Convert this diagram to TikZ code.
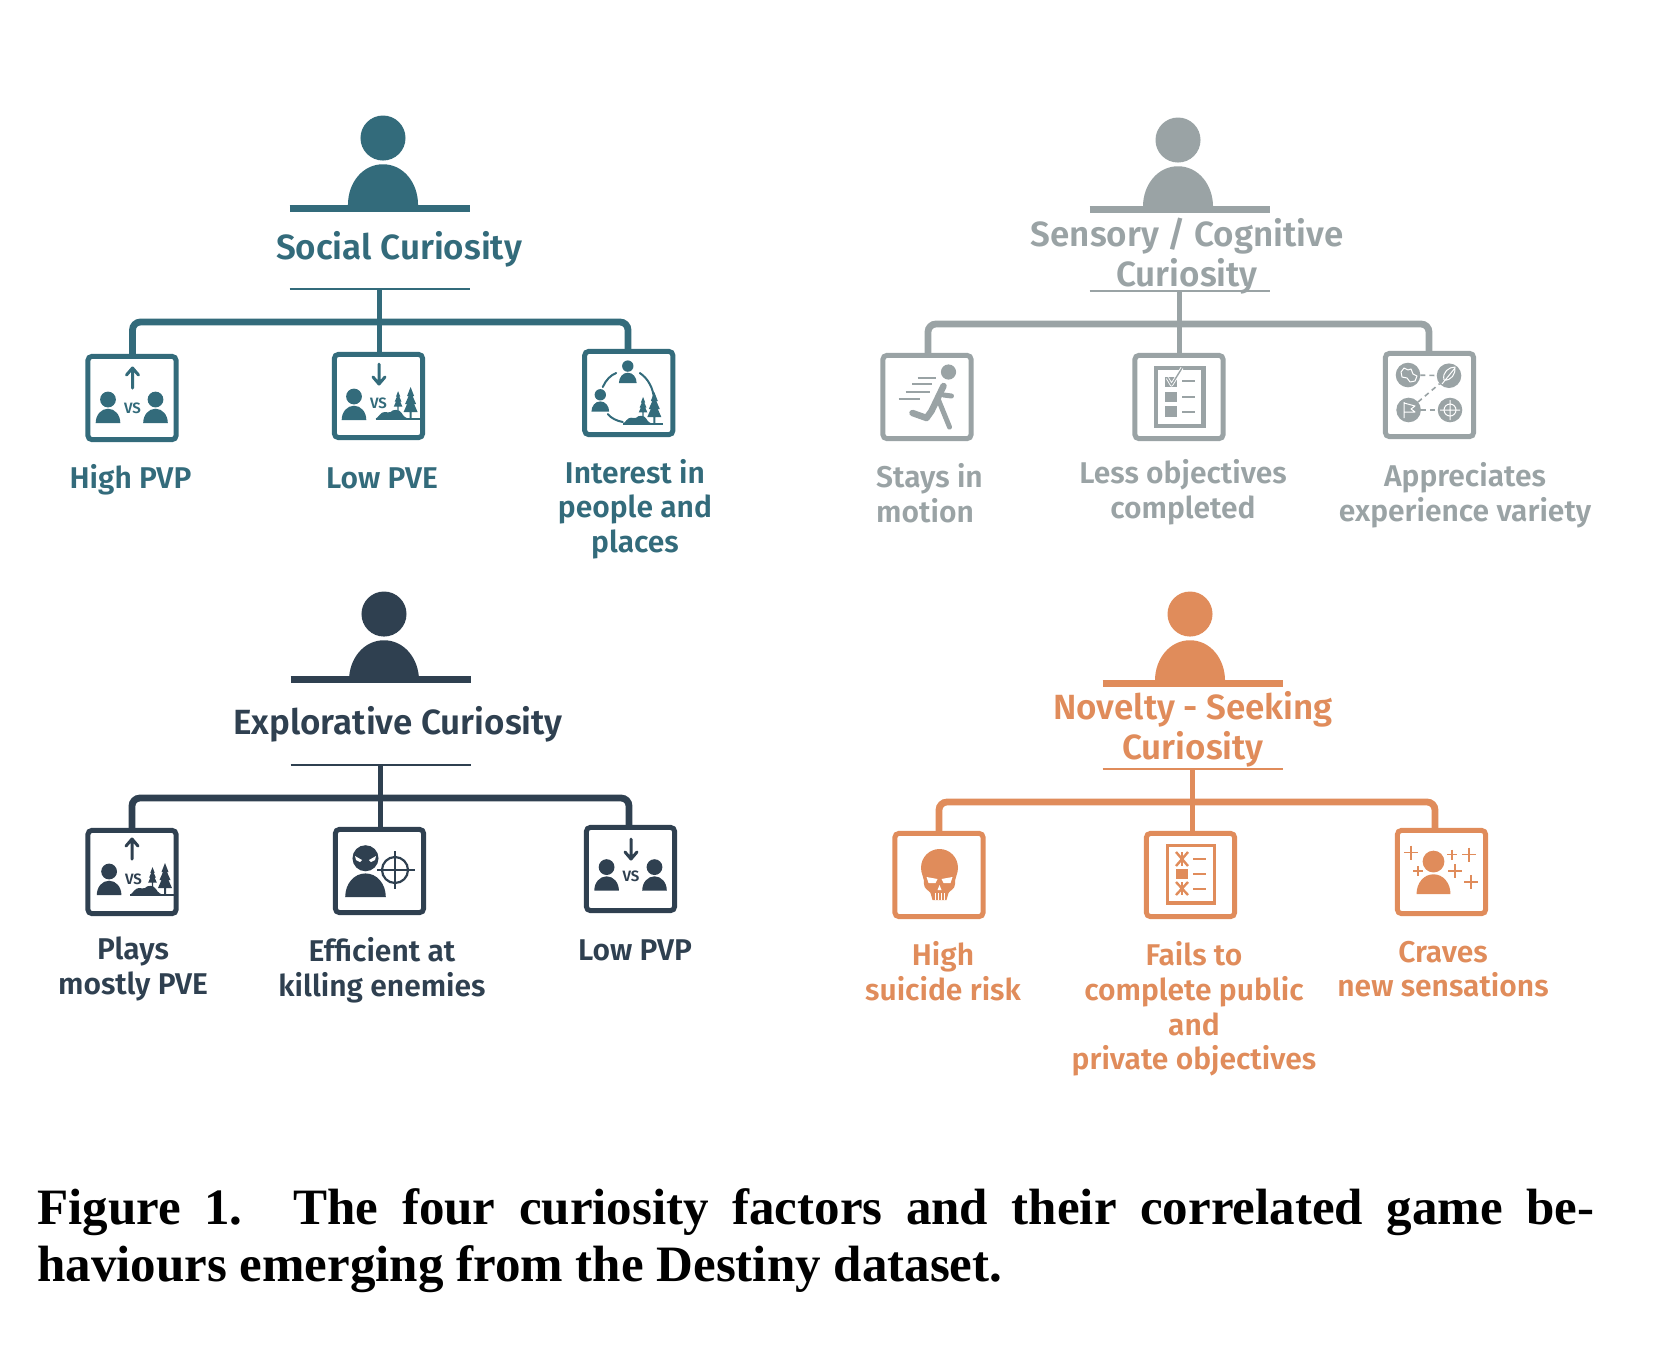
\documentclass[tikz,border=0pt]{standalone}
\usepackage{fontspec}
\setmainfont{Fira Sans}[BoldFont={Fira Sans SemiBold}]
\newfontfamily\capfont{Liberation Serif}
\usetikzlibrary{calc,positioning}

\definecolor{socialcol}{HTML}{336B7B}
\definecolor{sensorycol}{HTML}{9AA3A5}
\definecolor{explorecol}{HTML}{2F4050}
\definecolor{noveltycol}{HTML}{E08C5B}

\tikzset{
person/.pic={
  \fill (0,-23.5) circle (7.9);
  \fill (-12.3,0) .. controls (-12.3,-8) and (-7,-14.3) .. (0,-14.3) .. controls (7,-14.3) and (12.3,-8) .. (12.3,0) -- cycle;
},
fir/.pic={
  \fill (0,-32) -- (3.5,-23) -- (2,-23) -- (5.5,-15) -- (3.5,-15) -- (7,-7) -- (1,-7) -- (1,0) -- (-1,0) -- (-1,-7) -- (-7,-7) -- (-3.5,-15) -- (-5.5,-15) -- (-2,-23) -- (-3.5,-23) -- cycle;
},
scenery/.pic={
  \fill (0,-1) rectangle (45,1);
  \fill (0,0) .. controls (3,-2) and (5,-7) .. (9,-7) .. controls (12,-7) and (13,-6) .. (15,-7) .. controls (17,-10) and (24,-10) .. (26,-6) .. controls (28,-2) and (31,-1) .. (33,0) -- cycle;
  \pic[scale=.62] at (22.5,-8) {fir};
  \pic at (35,0) {fir};
},
pointer/.pic={
  \draw[line width=3pt,line cap=round,line join=round] (0,20) -- (0,0) (-6,7) -- (0,0) -- (6,7);
},
sparkle/.pic={
  \draw[line width=1.4pt] (-1,0) -- (1,0) (0,-1) -- (0,1);
},
factorname/.style={font=\fontsize{35}{40}\selectfont\bfseries,align=center,inner sep=0pt},
lab/.style={font=\fontsize{30}{34.7}\selectfont\bfseries,align=center,inner sep=0pt},
vslab/.style={font=\fontsize{15}{15}\selectfont\bfseries,inner sep=0pt},
iconbox/.style={draw,line width=5pt,rounded corners=4pt,minimum width=88.2pt,minimum height=83.2pt,inner sep=0pt,outer sep=0pt},
shelf/.style={line width=7pt},
rule/.style={line width=1.6pt},
trunk/.style={line width=6.8pt,rounded corners=8pt},
stem/.style={line width=5pt},
tickline/.style={line width=2.4pt},
doc/.style={line width=4.2pt},
badge/.style={circle,fill,minimum size=24.6pt,inner sep=0pt,outer sep=0pt},
inlay/.style={white,line width=1pt,line join=round},
link/.style={line width=1.6pt,dash pattern=on 5pt off 4pt}
}

\begin{document}
\begin{tikzpicture}[x=1pt,y=-1pt]
\useasboundingbox (0,0) rectangle (1662,1350);

%%%%%%%%%%%%%%%%%%%%%
% Social curiosity
\begin{scope}[color=socialcol]
% Nodes
\coordinate (shelfAl) at (289.5,208);
\coordinate (shelfAr) at (469.5,208);
\coordinate (ruleAl) at (289.5,289);
\coordinate (ruleAr) at (469.5,289);
\coordinate (ruleA) at (379,289);
\coordinate (hubAl) at (132.5,322);
\coordinate (hubAr) at (628,322);
\node[iconbox] (boxAa) at (132,398) {};
\node[iconbox] (boxAb) at (378.5,396) {};
\node[iconbox] (boxAc) at (628.8,393) {};

% Arrows
\draw[shelf] (shelfAl) -- (shelfAr);
\draw[rule] (ruleAl) -- (ruleAr);
\draw[stem] (ruleA) -- (ruleA |- boxAb.north);
\draw[trunk] (boxAa.north -| hubAl) -- (hubAl) -- (hubAr) -- (boxAc.north -| hubAr);

% Icons
\pic[scale=2.85] at (383,205) {person};
\begin{scope}[xshift=-0.5pt]
\pic at (133,368) {pointer};
\pic at (108.5,423) {person};
\pic at (156,423) {person};
\node[vslab] (vsAa) at (133,408) {VS};
\end{scope}
\begin{scope}[xshift=-2pt]
\pic[rotate=180] at (381,384) {pointer};
\pic at (356,420) {person};
\node[vslab] (vsAb) at (380.5,403) {VS};
\pic at (377.6,419) {scenery};
\end{scope}
\begin{scope}[xshift=-3.2pt]
\pic[scale=.72] at (631,383) {person};
\pic[scale=.72] at (603.5,411.7) {person};
\pic[scale=.9] at (626,424) {scenery};
\draw[line width=2pt,line cap=round] (606,387) .. controls (609,380) and (614,375) .. (619.4,373);
\draw[line width=2pt,line cap=round] (643,373) .. controls (651,378) and (657,389) .. (657,399);
\draw[line width=2pt,line cap=round] (611,414) .. controls (614,418) and (620,421) .. (626,422);
\end{scope}

% Labels
\node[factorname] (nameA) at (399,249) {Social Curiosity};
\node[lab] (labAa) at (130.5,480) {High PVP};
\node[lab] (labAb) at (382,478.5) {Low PVE};
\node[lab] (labAc) at (635,509) {Interest in\\people and\\places};
\end{scope}

%%%%%%%%%%%%%%%%%%%%%
% Sensory curiosity
\begin{scope}[color=sensorycol]
% Nodes
\coordinate (shelfBl) at (1089.5,209.5);
\coordinate (shelfBr) at (1269.5,209.5);
\coordinate (ruleBl) at (1089.5,291);
\coordinate (ruleBr) at (1269.5,291);
\coordinate (ruleB) at (1179.5,291);
\coordinate (hubBl) at (928,324);
\coordinate (hubBr) at (1429,324);
\node[iconbox] (boxBa) at (927,397) {};
\node[iconbox] (boxBb) at (1179,397) {};
\node[iconbox] (boxBc) at (1429.5,395) {};

% Arrows
\draw[shelf] (shelfBl) -- (shelfBr);
\draw[rule] (ruleBl) -- (ruleBr);
\draw[stem] (ruleB) -- (ruleB |- boxBb.north);
\draw[trunk] (boxBa.north -| hubBl) -- (hubBl) -- (hubBr) -- (boxBc.north -| hubBr);

% Icons
\pic[scale=2.85] at (1178,207) {person};
\begin{scope}[xshift=-0.5pt]
\fill (949,372) circle (7.6);
\draw[line width=2pt] (918,377.7) -- (936,377.7) (912.5,384) -- (932,384) (906,391.7) -- (930.5,391.7) (899,399) -- (920.6,399);
\draw[line width=6.5pt,line cap=round,line join=round] (944,386) -- (932,411) -- (927,418) -- (913,413);
\draw[line width=5pt,line cap=round] (939,400) -- (950,427);
\draw[line width=5pt,line cap=round] (944,395) -- (952,396);
\end{scope}
\begin{scope}[xshift=-2pt]
\draw[doc] (1158,368) rectangle (1205.5,425.7);
\fill (1167,377) rectangle (1178.5,387);
\fill (1167,392) rectangle (1178.5,402);
\fill (1167,406) rectangle (1178.5,417);
\draw[tickline] (1184,381) -- (1197,381) (1184,397) -- (1197,397) (1184,412) -- (1197,412);
\draw[white,line width=3.2pt,line join=round] (1169.4,378) -- (1173.5,385) -- (1184,368);
\draw[line width=1.4pt,line join=round] (1169.4,378) -- (1173.5,385) -- (1184,368);
\end{scope}
\begin{scope}[xshift=-3pt]
\node[badge] (badgeBa) at (1411,375) {};
\node[badge] (badgeBb) at (1452,375.7) {};
\node[badge] (badgeBc) at (1411.6,410) {};
\node[badge] (badgeBd) at (1453,410) {};
\draw[link] (badgeBa) -- (badgeBb);
\draw[link] (badgeBc) -- (badgeBd);
\draw[link] (badgeBc) -- (badgeBb);
\draw[inlay] (1404,372) -- (1407,368) -- (1411,370) -- (1414,369) -- (1416,374) -- (1420,376) -- (1418,381) -- (1413,382) -- (1410,378) -- (1405,377) -- cycle;
\draw[inlay] (1445,384) -- (1458,368) (1447,380) .. controls (1445,372) and (1452,367) .. (1458,367) .. controls (1459,374) and (1454,381) .. (1447,380);
\draw[inlay] (1407,402) -- (1407,418) (1407,403) -- (1418,406) -- (1414,409) -- (1418,412) -- (1407,412);
\draw[inlay] (1453,410) circle (6) (1443,410) -- (1463,410) (1453,400) -- (1453,420);
\end{scope}

% Labels
\node[factorname] (nameB) at (1187,256.5) {Sensory / Cognitive\\Curiosity};
\node[lab,align=left,anchor=west] (labBa) at (876,493) {Stays in\\motion};
\node[lab] (labBb) at (1183,492.5) {Less objectives\\completed};
\node[lab] (labBc) at (1465,495) {Appreciates\\experience variety};
\end{scope}

%%%%%%%%%%%%%%%%%%%%%
% Explorative curiosity
\begin{scope}[color=explorecol]
% Nodes
\coordinate (shelfCl) at (290.5,679);
\coordinate (shelfCr) at (470.5,679);
\coordinate (ruleCl) at (290.5,765);
\coordinate (ruleCr) at (470.5,765);
\coordinate (ruleC) at (380,765);
\coordinate (hubCl) at (132,798);
\coordinate (hubCr) at (629,798);
\node[iconbox] (boxCa) at (132,872) {};
\node[iconbox] (boxCb) at (379.5,871) {};
\node[iconbox] (boxCc) at (630.5,869) {};

% Arrows
\draw[shelf] (shelfCl) -- (shelfCr);
\draw[rule] (ruleCl) -- (ruleCr);
\draw[stem] (ruleC) -- (ruleC |- boxCb.north);
\draw[trunk] (boxCa.north -| hubCl) -- (hubCl) -- (hubCr) -- (boxCc.north -| hubCr);

% Icons
\pic[scale=2.85] at (384,681) {person};
\begin{scope}[xshift=-0.5pt]
\pic at (132.5,839) {pointer};
\pic at (109.6,895) {person};
\node[vslab] (vsCa) at (134,879) {VS};
\pic at (130.5,895) {scenery};
\end{scope}
\begin{scope}[xshift=-2pt]
\pic[scale=1.65] at (367.5,897) {person};
\fill[white] (357,856) -- (364,860) -- (362,862) -- (358,860) -- cycle;
\fill[white] (378,856) -- (371,860) -- (373,862) -- (377,860) -- cycle;
\draw[line width=2.2pt] (397,870) circle (13);
\draw[line width=2.2pt] (379,870) -- (416.5,870) (397,851) -- (397,889);
\end{scope}
\begin{scope}[xshift=-3pt]
\pic[rotate=180] at (634,859) {pointer};
\pic at (609.6,890.6) {person};
\pic at (657.5,890.6) {person};
\node[vslab] (vsCc) at (634,876) {VS};
\end{scope}

% Labels
\node[factorname] (nameC) at (398,724) {Explorative Curiosity};
\node[lab] (labCa) at (133,969) {Plays\\mostly PVE};
\node[lab] (labCb) at (382,970) {Efficient at\\killing enemies};
\node[lab] (labCc) at (635,950) {Low PVP};
\end{scope}

%%%%%%%%%%%%%%%%%%%%%
% Novelty curiosity
\begin{scope}[color=noveltycol]
% Nodes
\coordinate (shelfDl) at (1102.5,683);
\coordinate (shelfDr) at (1282.5,683);
\coordinate (ruleDl) at (1102.5,769);
\coordinate (ruleDr) at (1282.5,769);
\coordinate (ruleD) at (1192,769);
\coordinate (hubDl) at (939,802);
\coordinate (hubDr) at (1435,802);
\node[iconbox] (boxDa) at (939,875) {};
\node[iconbox] (boxDb) at (1190.5,875) {};
\node[iconbox] (boxDc) at (1441.5,872) {};

% Arrows
\draw[shelf] (shelfDl) -- (shelfDr);
\draw[rule] (ruleDl) -- (ruleDr);
\draw[stem] (ruleD) -- (ruleD |- boxDb.north);
\draw[trunk] (boxDa.north -| hubDl) -- (hubDl) -- (hubDr) -- (boxDc.north -| hubDr);

% Icons
\pic[scale=2.85] at (1190,681) {person};
\begin{scope}[xshift=-0.5pt]
\fill (940,849) .. controls (950,849) and (958.5,857) .. (958.5,868) .. controls (958.5,874) and (955,878) .. (955.5,884) .. controls (955.5,889) and (951,890) .. (949,893) -- (947,900) -- (933,900) -- (931,893) .. controls (929,890) and (924.5,889) .. (924.5,884) .. controls (925,878) and (921.5,874) .. (921.5,868) .. controls (921.5,857) and (930,849) .. (940,849) -- cycle;
\fill[white] (927,877) -- (938,879) -- (936,883) -- (929,883) -- cycle;
\fill[white] (953,877) -- (942,879) -- (944,883) -- (951,883) -- cycle;
\fill[white] (940,885) -- (942,890) -- (938,890) -- cycle;
\draw[white,line width=.8pt] (936,893) -- (936,900) (939,893) -- (939,900) (942,893) -- (942,900) (945,893) -- (945,900);
\end{scope}
\begin{scope}[xshift=-2pt]
\draw[line width=3.4pt] (1169.5,845.7) rectangle (1216.7,903);
\draw[line width=2.4pt] (1178,852) -- (1190,866) (1190,852) -- (1178,866);
\draw[line width=2.4pt] (1178,882) -- (1190,895) (1190,882) -- (1178,895);
\draw[line width=1.2pt] (1184,852) -- (1184,866) (1184,882) -- (1184,895);
\fill (1178,869) rectangle (1190,879);
\draw[tickline] (1195,858.7) -- (1208,858.7) (1195,874) -- (1208,874) (1195,889) -- (1208,889);
\end{scope}
\begin{scope}[xshift=-3pt]
\pic[scale=1.38] at (1436.5,894) {person};
\pic[scale=7] at (1414,852.7) {sparkle};
\pic[scale=5] at (1455,854.7) {sparkle};
\pic[scale=7] at (1472,854.7) {sparkle};
\pic[scale=5] at (1421,871) {sparkle};
\pic[scale=7] at (1458,871) {sparkle};
\pic[scale=7] at (1474,882) {sparkle};
\end{scope}

% Labels
\node[factorname] (nameD) at (1193,729.5) {Novelty - Seeking\\Curiosity};
\node[lab] (labDa) at (943,971.5) {High\\suicide risk};
\node[lab] (labDb) at (1194,1009) {Fails to\\complete public\\and\\private objectives};
\node[lab] (labDc) at (1443,969) {Craves\\new sensations};
\end{scope}

% Caption
\node[anchor=north west,inner sep=0pt,text width=1557pt,align=justify,font=\capfont\fontsize{51}{57}\selectfont\bfseries] (capt) at (37,1188)
  {Figure 1.\quad The four curiosity factors and their correlated game be-\linebreak haviours emerging from the Destiny dataset.};

\end{tikzpicture}
\end{document}
